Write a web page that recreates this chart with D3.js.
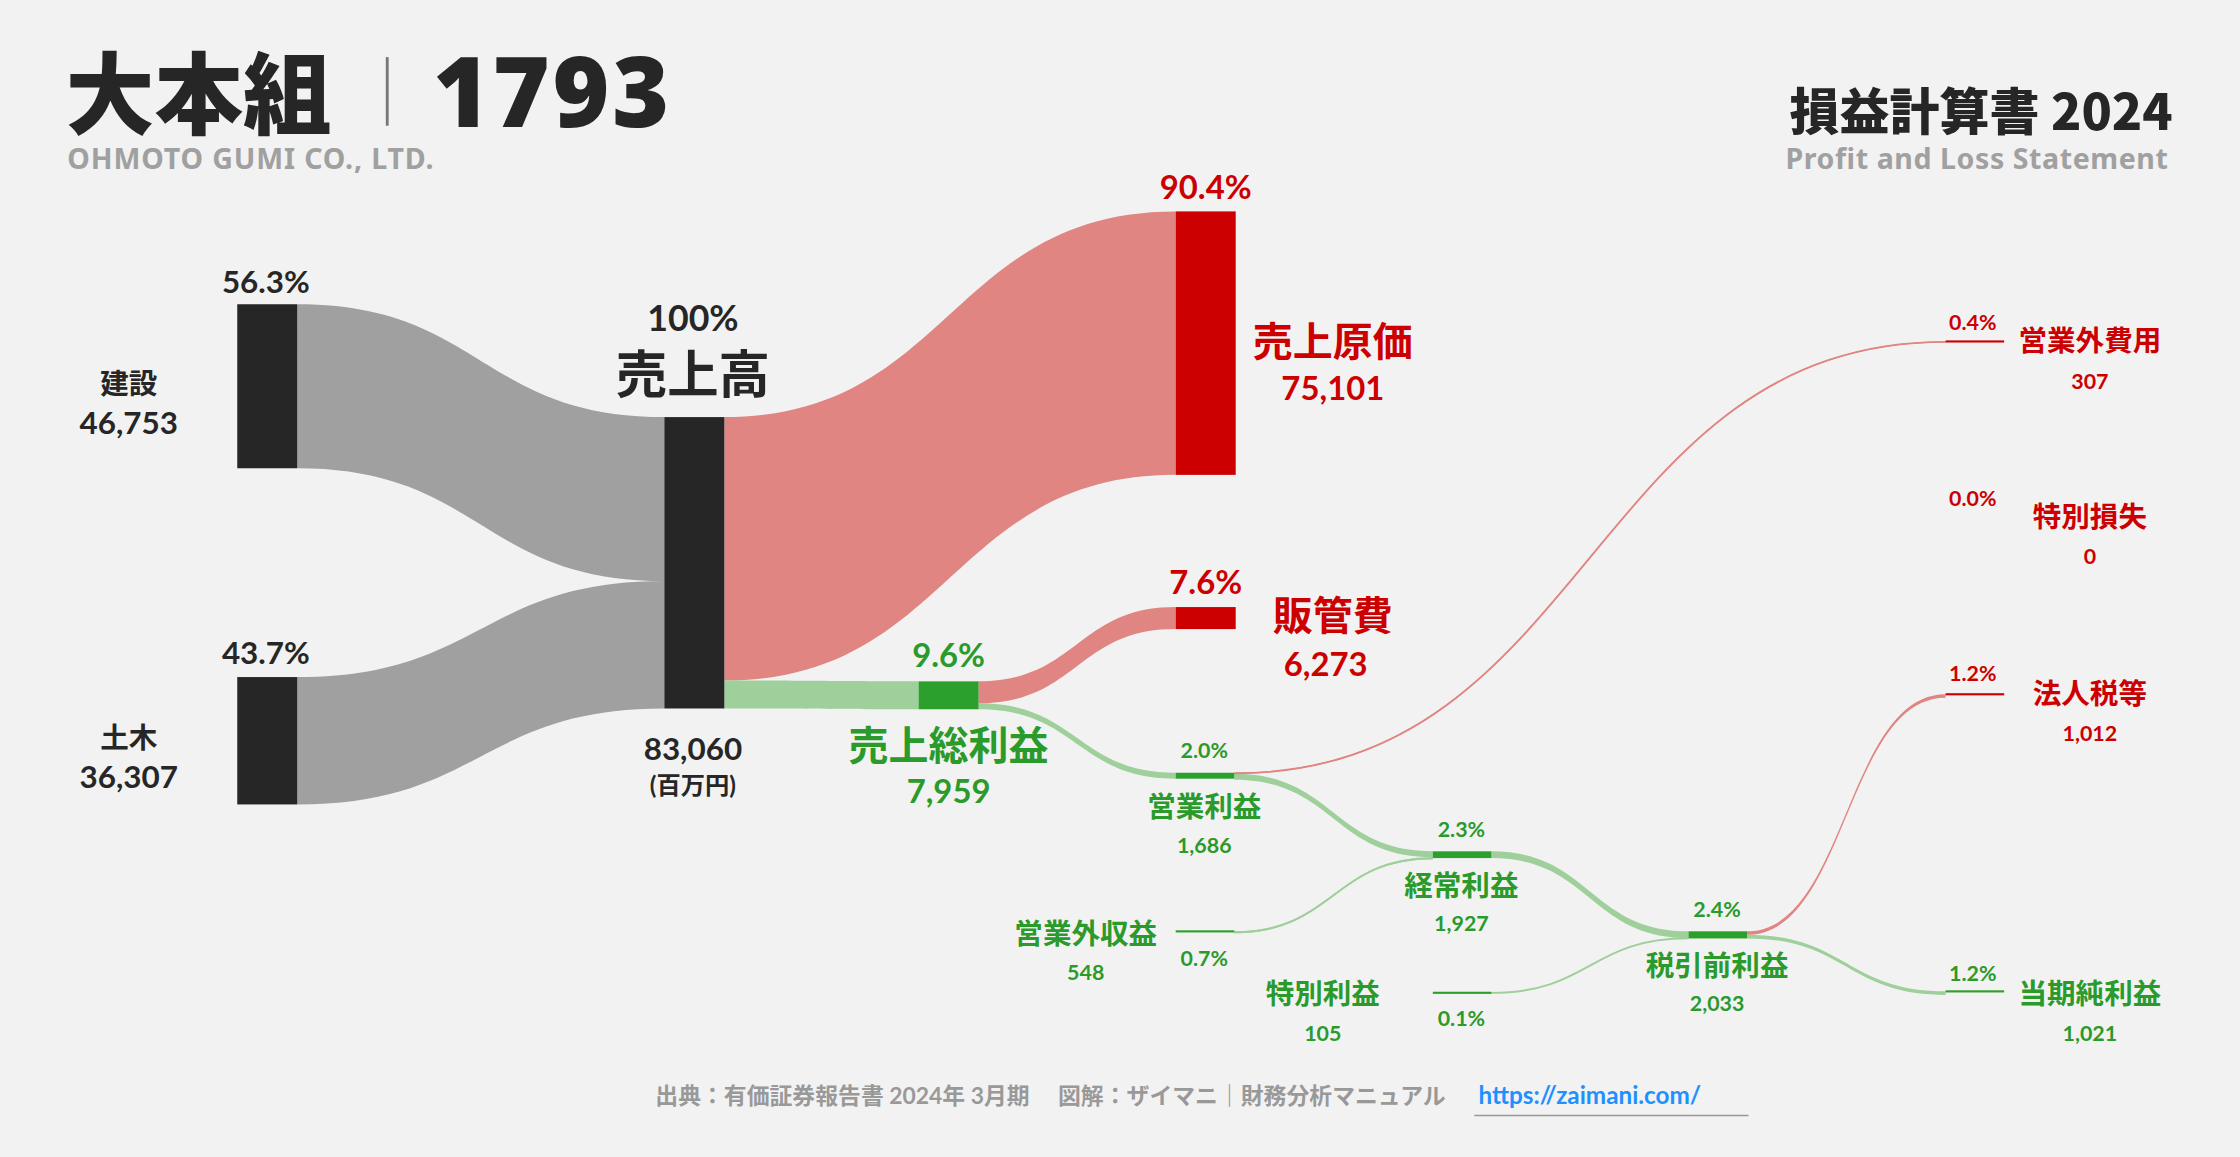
<!DOCTYPE html>
<html lang="ja">
<head>
<meta charset="UTF-8">
<title>大本組 損益計算書 2024</title>
<style>
  html, body { margin: 0; padding: 0; background: #f2f2f2; }
  svg { display: block; font-family: "Lato", "Noto Sans CJK JP", sans-serif; }
</style>
</head>
<body>
<svg id="chart" width="2240" height="1157" viewBox="0 0 1568 810"></svg>
<script src="https://d3js.org/d3.v7.min.js"></script>
<script>
// 値（百万円）
var nodeNames = ["建設", "土木", "売上高", "売上原価", "売上総利益", "販管費", "営業利益",
                 "営業外収益", "営業外費用", "経常利益", "特別利益", "特別損失", "税引前利益", "法人税等", "当期純利益"];
var nodeValues = [46753, 36307, 83060, 75101, 7959, 6273, 1686, 548, 307, 1927, 105, 0, 2033, 1012, 1021];
var nodePct = ["56.3%", "43.7%", "100%", "90.4%", "9.6%", "7.6%", "2.0%", "0.7%", "0.4%", "2.3%", "0.1%", "0.0%", "2.4%", "1.2%", "1.2%"];
var linkPairs = [[0, 2], [1, 2], [2, 3], [2, 4], [4, 5], [4, 6], [6, 8], [6, 9], [7, 9], [9, 12], [10, 12], [12, 13], [12, 14]];

// レイアウト（表示座標）: x左端, y上端, 種別
var layout = [
  { x: 166, y: 213, kind: "grey" }, { x: 166, y: 474, kind: "grey" },
  { x: 465, y: 292, kind: "grey" }, { x: 823, y: 148, kind: "red" },
  { x: 643, y: 477, kind: "green" }, { x: 823, y: 425, kind: "red" },
  { x: 823, y: 541, kind: "green" }, { x: 823, y: 652, kind: "green", thin: true },
  { x: 1362, y: 239, kind: "red", thin: true }, { x: 1003, y: 596, kind: "green" },
  { x: 1003, y: 695, kind: "green", thin: true }, { x: 1362, y: 362, kind: "red", thin: true },
  { x: 1182, y: 652, kind: "green" }, { x: 1362, y: 486, kind: "red", thin: true },
  { x: 1362, y: 694, kind: "green", thin: true }
];

var nodeCol = { grey: "#262626", red: "#cc0000", green: "#2ca02c" };
var linkCol = { grey: "#a0a0a0", red: "#e08582", green: "#9fcf9a" };
var textCol = { grey: "#262626", red: "#cc0000", green: "#2a9a2a" };

var svg = d3.select("#chart");
svg.append("rect").attr("width", 1568).attr("height", 810).attr("fill", "#f2f2f2");

var h = d3.scaleLinear().domain([0, 83060]).range([0, 204]);
var fmt = d3.format(",");

var nodes = nodeNames.map(function(n, i) {
  var L = layout[i];
  var w = (L.kind === "grey" || i === 3 || i === 4 || i === 5) ? 42 : 41;
  return { name: n, value: nodeValues[i], x0: L.x, x1: L.x + w, y0: L.y, y1: L.y + h(nodeValues[i]),
           kind: L.kind, thin: L.thin, outOff: 0, inOff: 0 };
});

var links = linkPairs.map(function(p) {
  var s = nodes[p[0]], t = nodes[p[1]];
  var v = s.value < t.value ? s.value : t.value;
  if (p[0] === 6 || p[0] === 4 || p[0] === 12 || p[0] === 2) v = t.value;
  if (p[1] === 2 || p[1] === 9 || p[1] === 12) v = s.value;
  var th = h(v);
  var l = { s: s, t: t, th: th, kind: (t.kind === "red") ? "red" : (s.kind === "grey" && t.kind === "grey" ? "grey" : "green") };
  l.sy0 = s.y0 + s.outOff; s.outOff += th;
  l.ty0 = t.y0 + t.inOff; t.inOff += th;
  return l;
});

function ribbon(l) {
  var sx = l.s.x1, tx = l.t.x0, mx = (sx + tx) / 2;
  var a = l.sy0, b = l.sy0 + l.th, c = l.ty0, d = l.ty0 + l.th;
  return "M" + sx + "," + a + "C" + mx + "," + a + " " + mx + "," + c + " " + tx + "," + c +
         "L" + tx + "," + d + "C" + mx + "," + d + " " + mx + "," + b + " " + sx + "," + b + "Z";
}
function centerLine(l) {
  var sx = l.s.x1, tx = l.t.x0, mx = (sx + tx) / 2;
  var a = l.sy0 + l.th / 2, c = l.ty0 + l.th / 2;
  return "M" + sx + "," + a + "C" + mx + "," + a + " " + mx + "," + c + " " + tx + "," + c;
}

svg.append("g").selectAll("path.rib").data(links).enter().append("path")
  .attr("d", ribbon).attr("fill", function(d) { return linkCol[d.kind]; });
svg.append("g").selectAll("path.cl").data(links.filter(function(d) { return d.th < 2; })).enter().append("path")
  .attr("d", centerLine).attr("fill", "none").attr("stroke-width", 1.3)
  .attr("stroke", function(d) { return linkCol[d.kind]; });

svg.append("g").selectAll("rect").data(nodes.filter(function(d) { return d.value > 0; })).enter().append("rect")
  .attr("x", function(d) { return d.x0; })
  .attr("width", function(d) { return d.x1 - d.x0; })
  .attr("y", function(d) { return d.thin ? d.y0 - 0.7 : d.y0; })
  .attr("height", function(d) { return d.thin ? 1.5 : Math.max(3.5, d.y1 - d.y0); })
  .attr("fill", function(d) { return nodeCol[d.kind]; });

// ラベル
function txt(x, y, s, size, col, anchor, weight) {
  return svg.append("text").attr("x", x).attr("y", y).text(s)
    .attr("font-size", size).attr("fill", col).attr("text-anchor", anchor || "middle")
    .attr("font-weight", weight || "bold");
}
var K = "#262626", R = textCol.red, G = textCol.green;
// 建設・土木
txt(186, 205, nodePct[0], 22, K); txt(90, 276, nodeNames[0], 20, K); txt(90, 304, fmt(nodeValues[0]), 22, K);
txt(186, 465, nodePct[1], 22, K); txt(90, 524, nodeNames[1], 20, K); txt(90, 552, fmt(nodeValues[1]), 22, K);
// 売上高
txt(485, 232, nodePct[2], 25, K); txt(485, 275, nodeNames[2], 36, K);
txt(485, 532, fmt(nodeValues[2]), 22, K); txt(485, 556, "(百万円)", 17, K);
// 売上原価
txt(844, 139, nodePct[3], 23, R); txt(933, 249, nodeNames[3], 28, R); txt(933, 280, fmt(nodeValues[3]), 23, R);
// 販管費
txt(844, 416, nodePct[5], 23, R); txt(933, 441, nodeNames[5], 28, R); txt(928, 473, fmt(nodeValues[5]), 23, R);
// 売上総利益
txt(664, 467, nodePct[4], 23, G); txt(664, 532, nodeNames[4], 28, G); txt(664, 562, fmt(nodeValues[4]), 23, G);
// 営業利益
txt(843, 531, nodePct[6], 15, G); txt(843, 572, nodeNames[6], 20, G); txt(843, 597, fmt(nodeValues[6]), 15, G);
// 営業外収益
txt(760, 661, nodeNames[7], 20, G); txt(760, 686, fmt(nodeValues[7]), 15, G); txt(843, 676, nodePct[7], 15, G);
// 経常利益
txt(1023, 586, nodePct[9], 15, G); txt(1023, 627, nodeNames[9], 20, G); txt(1023, 652, fmt(nodeValues[9]), 15, G);
// 特別利益
txt(926, 703, nodeNames[10], 20, G); txt(926, 729, fmt(nodeValues[10]), 15, G); txt(1023, 718, nodePct[10], 15, G);
// 税引前利益
txt(1202, 642, nodePct[12], 15, G); txt(1202, 683, nodeNames[12], 20, G); txt(1202, 708, fmt(nodeValues[12]), 15, G);
// 右列
txt(1381, 231, nodePct[8], 15, R); txt(1463, 246, nodeNames[8], 20, R); txt(1463, 272, fmt(nodeValues[8]), 15, R);
txt(1381, 354, nodePct[11], 15, R); txt(1463, 369, nodeNames[11], 20, R); txt(1463, 395, fmt(nodeValues[11]), 15, R);
txt(1381, 477, nodePct[13], 15, R); txt(1463, 493, nodeNames[13], 20, R); txt(1463, 519, fmt(nodeValues[13]), 15, R);
txt(1381, 687, nodePct[14], 15, G); txt(1463, 703, nodeNames[14], 20, G); txt(1463, 729, fmt(nodeValues[14]), 15, G);

// タイトル
txt(46, 89, "大本組", 62, K, "start", 900).attr("font-family", "Noto Sans CJK JP");
svg.append("line").attr("x1", 271).attr("x2", 271).attr("y1", 40).attr("y2", 88).attr("stroke", "#777").attr("stroke-width", 2);
txt(303, 89, "1793", 68, K, "start", 900).attr("font-family", "Noto Sans").attr("letter-spacing", 2);
txt(47, 118, "OHMOTO GUMI CO., LTD.", 20, "#a0a0a0", "start").attr("font-family", "Noto Sans").attr("letter-spacing", 0.6);
txt(1521, 91, "損益計算書 2024", 35, K, "end", 900).attr("font-family", "Noto Sans CJK JP");
txt(1518, 118, "Profit and Loss Statement", 20, "#a0a0a0", "end").attr("font-family", "Noto Sans").attr("letter-spacing", 0.4);
// 出典
txt(1012, 773, "出典：有価証券報告書 2024年 3月期　 図解：ザイマニ｜財務分析マニュアル", 16, "#999", "end");
txt(1035, 773, "https://zaimani.com/", 17, "#1e90ff", "start");
svg.append("line").attr("x1", 1032).attr("x2", 1224).attr("y1", 781).attr("y2", 781).attr("stroke", "#999").attr("stroke-width", 1);
</script>
</body>
</html>
